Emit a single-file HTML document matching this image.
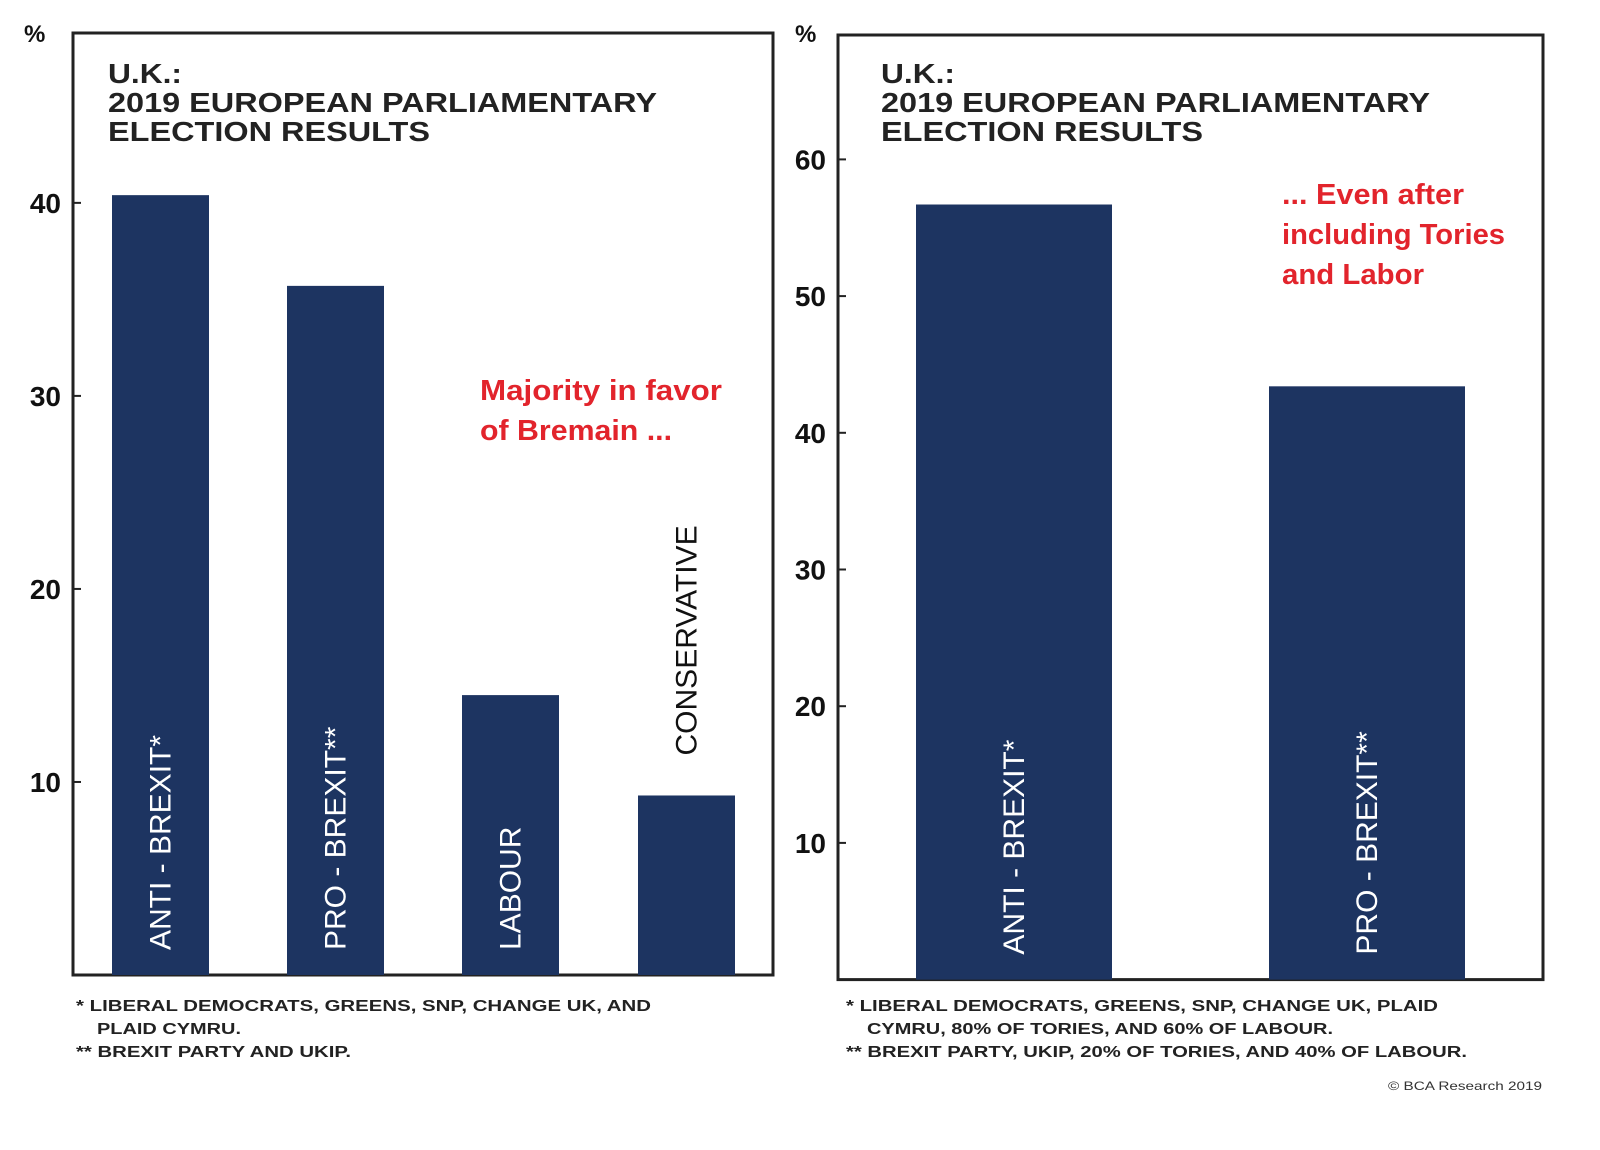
<!DOCTYPE html>
<html><head><meta charset="utf-8"><style>
body{margin:0;background:#fff}
svg{display:block;font-family:"Liberation Sans",Arial,sans-serif}
</style></head><body>
<svg id="c" width="1600" height="1150" viewBox="0 0 1600 1150">
<g id="L"></g><g id="R"></g>
<text x="24" y="42" font-size="24" font-weight="bold" fill="#111">%</text>
<text x="795" y="42" font-size="24" font-weight="bold" fill="#111">%</text>
<g font-size="28" font-weight="bold" fill="#222" lengthAdjust="spacingAndGlyphs">
<text x="108" y="83" textLength="74" lengthAdjust="spacingAndGlyphs">U.K.:</text><text x="108" y="112" textLength="549" lengthAdjust="spacingAndGlyphs">2019 EUROPEAN PARLIAMENTARY</text><text x="108" y="141" textLength="322" lengthAdjust="spacingAndGlyphs">ELECTION RESULTS</text></g>
<g font-size="28" font-weight="bold" fill="#222">
<text x="881" y="83" textLength="74" lengthAdjust="spacingAndGlyphs">U.K.:</text><text x="881" y="112" textLength="549" lengthAdjust="spacingAndGlyphs">2019 EUROPEAN PARLIAMENTARY</text><text x="881" y="141" textLength="322" lengthAdjust="spacingAndGlyphs">ELECTION RESULTS</text></g>
<g font-size="29" font-weight="bold" fill="#e2242c">
<text x="480" y="400" textLength="242" lengthAdjust="spacingAndGlyphs">Majority in favor</text><text x="480" y="440" textLength="192" lengthAdjust="spacingAndGlyphs">of Bremain ...</text></g>
<g font-size="29" font-weight="bold" fill="#e2242c">
<text x="1282" y="204" textLength="182" lengthAdjust="spacingAndGlyphs">... Even after</text><text x="1282" y="244" textLength="223" lengthAdjust="spacingAndGlyphs">including Tories</text><text x="1282" y="284" textLength="142" lengthAdjust="spacingAndGlyphs">and Labor</text></g>
<g font-size="16" font-weight="bold" fill="#222">
<text x="76" y="1011" textLength="575" lengthAdjust="spacingAndGlyphs">*  LIBERAL DEMOCRATS, GREENS, SNP, CHANGE UK, AND</text>
<text x="97" y="1034" textLength="144" lengthAdjust="spacingAndGlyphs">PLAID CYMRU.</text>
<text x="76" y="1057" textLength="275" lengthAdjust="spacingAndGlyphs">** BREXIT PARTY AND UKIP.</text></g>
<g font-size="16" font-weight="bold" fill="#222">
<text x="846" y="1011" textLength="592" lengthAdjust="spacingAndGlyphs">*  LIBERAL DEMOCRATS, GREENS, SNP, CHANGE UK, PLAID</text>
<text x="867" y="1034" textLength="466" lengthAdjust="spacingAndGlyphs">CYMRU, 80% OF TORIES, AND 60% OF LABOUR.</text>
<text x="846" y="1057" textLength="621" lengthAdjust="spacingAndGlyphs">** BREXIT PARTY, UKIP, 20% OF TORIES, AND 40% OF LABOUR.</text></g>
<text x="1388" y="1090" textLength="154" lengthAdjust="spacingAndGlyphs" font-size="12" fill="#333">© BCA Research 2019</text>
</svg>
<script>
const leftCats=["ANTI - BREXIT*","PRO - BREXIT**","LABOUR","CONSERVATIVE"];
const leftVals=[40.4,35.7,14.5,9.3];
const leftTicks=[10,20,30,40];
const rightCats=["ANTI - BREXIT*","PRO - BREXIT**"];
const rightVals=[56.7,43.4];
const rightTicks=[10,20,30,40,50,60];
const NS="http://www.w3.org/2000/svg";
function mk(p,t,a,txt){const e=document.createElementNS(NS,t);for(const k in a)e.setAttribute(k,a[k]);if(txt!=null)e.textContent=txt;p.appendChild(e);return e;}
function panel(g,box,yMax,cats,vals,ticks,barX,barW,outsideIdx){
  const y=v=>box.y1-(v/yMax)*(box.y1-box.y0);
  const fr=mk(g,'rect',{x:box.x0,y:box.y0,width:box.x1-box.x0,height:box.y1-box.y0,fill:'none',stroke:'#222','stroke-width':3});
  
  
  ticks.forEach(t=>{
    const l=mk(g,'line',{x1:box.x0,x2:box.x0+8,y1:y(t),y2:y(t),stroke:'#222','stroke-width':2});
    
    
    const tx=mk(g,'text',{x:box.x0-12,y:y(t)+10,'text-anchor':'end','font-size':28,'font-weight':'bold',fill:'#111'},String(t));
    
    
  });
  vals.forEach((v,i)=>{
    const r=mk(g,'rect',{x:barX[i],y:y(v),width:barW,height:box.y1-y(v),fill:'#1d3461'});
    
    
    const cx=barX[i]+barW/2+10;
    let tx;
    if(i===outsideIdx){
      const ty=y(v)-40;
      tx=mk(g,'text',{x:cx,y:ty,transform:`rotate(-90 ${cx} ${ty})`,'font-size':30,fill:'#111'},cats[i]);
    }else{
      const ty=box.y1-25;
      tx=mk(g,'text',{x:cx,y:ty,transform:`rotate(-90 ${cx} ${ty})`,'font-size':30,fill:'#fff'},cats[i]);
    }
    
    
  });
}
panel(document.getElementById('L'),{x0:73,x1:773,y0:33,y1:975},48.8,leftCats,leftVals,leftTicks,[112,287,462,638],97,3);
panel(document.getElementById('R'),{x0:838,x1:1543,y0:35,y1:979.6},69.1,rightCats,rightVals,rightTicks,[916,1269],196,-1);
</script>
</body></html>
